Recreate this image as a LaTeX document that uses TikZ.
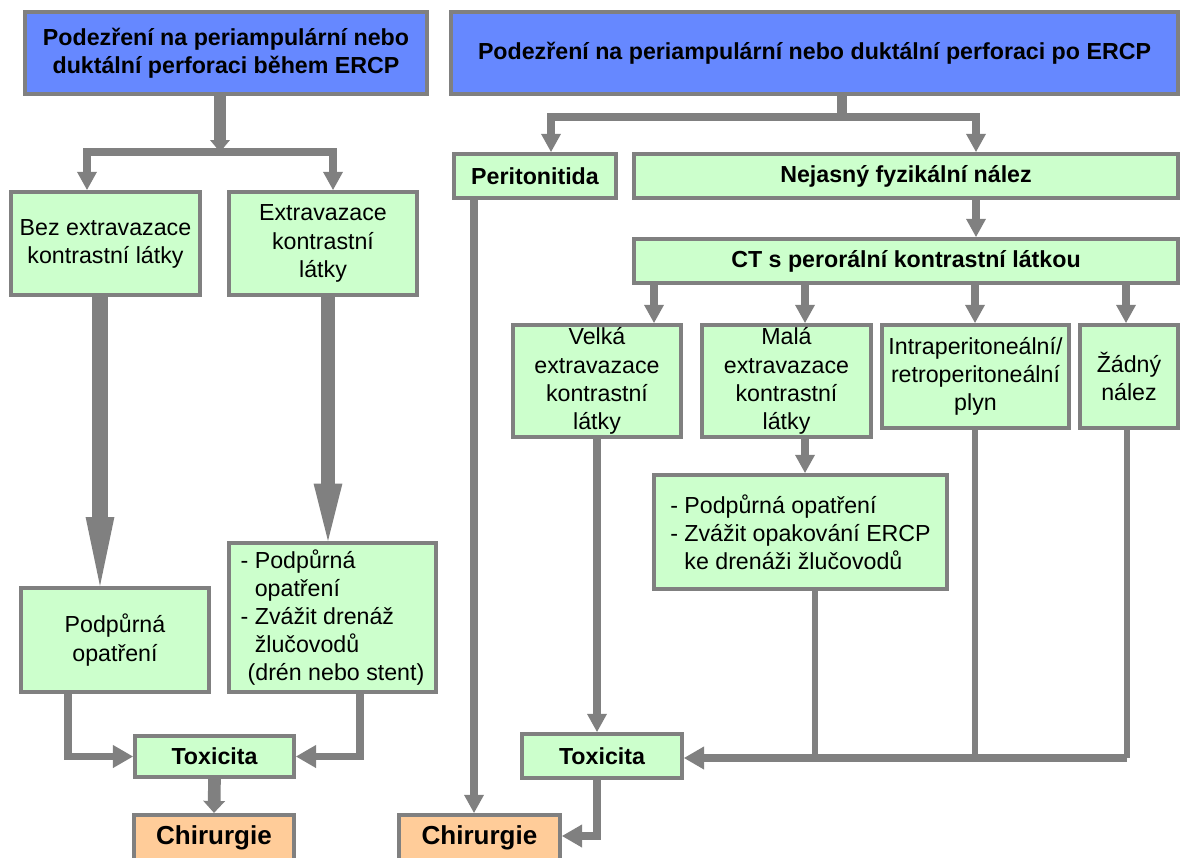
\documentclass[tikz,border=0pt]{standalone}
\usepackage{fontspec}
\setmainfont{Liberation Sans}
\usepackage{xcolor}
\usepackage{tikz}
\usetikzlibrary{arrows.meta,calc}
\definecolor{linegray}{HTML}{808080}
\definecolor{headblue}{HTML}{6688FF}
\definecolor{boxgreen}{HTML}{CCFFCC}
\definecolor{boxorange}{HTML}{FFCC99}
\newlength{\px}
\setlength{\px}{0.025cm}
\tikzset{
  dims/.style 2 args={minimum width=#1\px, minimum height=#2\px},
  box/.style={draw=linegray, line width=3pt, fill=boxgreen, inner sep=0pt,
    align=center, font=\fontsize{16.5}{20}\selectfont},
  boldbox/.style={box, font=\fontsize{16.5}{20}\selectfont\bfseries},
  headbox/.style={box, fill=headblue, font=\fontsize{16.5}{20}\selectfont\bfseries},
  surgbox/.style={boldbox, fill=boxorange, font=\fontsize{18.5}{20}\selectfont\bfseries},
  link/.style={draw=linegray, line width=#1},
  link/.default=5pt,
  tipS/.style={-{Triangle[length=0.45cm,width=0.5cm,line width=0pt]}},
  tipM/.style={-{Triangle[length=0.5cm,width=0.58cm,line width=0pt]}}
}

\begin{document}
\begin{tikzpicture}[x=0.025cm, y=-0.025cm]
  \useasboundingbox (0,0) rectangle (1180,857);

  \node[headbox, dims={402}{82}] (topL) at (226,53)
    {Podezření na periampulární nebo\\duktální perforaci během ERCP};
  \node[headbox, dims={727}{82}] (topR) at (814.5,53)
    {Podezření na periampulární nebo duktální perforaci po ERCP};

  \node[box, dims={189}{103}] (bez) at (105.5,243.5) {Bez extravazace\\kontrastní látky};
  \node[box, dims={188}{103}] (extra) at (323,243.5) {Extravazace\\kontrastní\\látky};
  \node[box, dims={188}{104}] (podL) at (115,640) {Podpůrná\\opatření};
  \node[box, dims={207}{149}, align=left] (podR) at (332.5,617.5)
    {- Podpůrná\\\phantom{- }opatření\\- Zvážit drenáž\\\phantom{- }žlučovodů\\\hspace*{0.3em}(drén nebo stent)};
  \node[boldbox, dims={159}{41}] (toxL) at (214.5,756.5) {Toxicita};
  \node[surgbox, dims={160}{46}] (chirL) at (214,838) {Chirurgie};

  \node[boldbox, dims={162}{44}] (perit) at (535,176) {Peritonitida};
  \node[boldbox, dims={544}{44}] (nejas) at (906,176) {Nejasný fyzikální nález};
  \node[boldbox, dims={544}{44}] (ct) at (906,261) {CT s perorální kontrastní látkou};
  \node[box, dims={168}{112}] (velka) at (597,381) {Velká\\extravazace\\kontrastní\\látky};
  \node[box, dims={169}{112}] (mala) at (786.5,381) {Malá\\extravazace\\kontrastní\\látky};
  \node[box, dims={187}{103}] (intra) at (975.5,376.5) {Intraperitoneální/\\retroperitoneální\\plyn};
  \node[box, dims={98}{103}] (zadny) at (1129,376.5) {Žádný\\nález};
  \node[box, dims={293}{114}, align=left] (podM) at (800.5,532)
    {- Podpůrná opatření\\- Zvážit opakování ERCP\\\phantom{- }ke drenáži žlučovodů};
  \node[boldbox, dims={160}{44}] (toxR) at (602,756) {Toxicita};
  \node[surgbox, dims={161}{46}] (chirR) at (479.5,838) {Chirurgie};

  \coordinate (jL) at (220,152);
  \coordinate (jR) at (842,117);
  \coordinate (g1) at (815,758);
  \coordinate (g2) at (975,758);
  \coordinate (g3) at (1127,758);

  \draw[link=9pt, -{Triangle[length=0.3cm,width=0.5cm,line width=0pt]}] (topL.south -| jL) -- (jL);
  \draw[link=5.7pt, tipS] (jL) -| ($(bez.north)+(-18.5,0)$);
  \draw[link=5.7pt, tipS] (jL) -| ($(extra.north)+(10,0)$);
  \draw[link=11pt, -{Triangle[length=1.72cm,width=0.72cm,line width=0pt]}] ($(bez.south)+(-5.5,0)$) -- ($(podL.north)+(-15,0)$);
  \draw[link=10pt, -{Triangle[length=1.43cm,width=0.72cm,line width=0pt]}] ($(extra.south)+(5,0)$) -- ($(podR.north)+(-4.5,0)$);
  \draw[link, tipM] ($(podL.south)+(-47,0)$) |- (toxL.west);
  \draw[link, tipM] ($(podR.south)+(27.5,0)$) |- (toxL.east);
  \draw[link=9pt, -{Triangle[length=0.3cm,width=0.55cm,line width=0pt]}] (toxL.south) -- (chirL.north);

  \draw[link=7pt] (topR.south -| jR) -- (jR);
  \draw[link=6.3pt, tipS] (jR) -| ($(perit.north)+(16,0)$);
  \draw[link=6.3pt, tipS] (jR) -| ($(nejas.north)+(70,0)$);
  \draw[link=6.3pt, tipS] (nejas.south -| 976,0) -- (ct.north -| 976,0);
  \foreach \n/\ax in {velka/654,mala/805,intra/975,zadny/1126}
    \draw[link=6.3pt, tipS] (ct.south -| \ax,0) -- (\n.north -| \ax,0);
  \draw[link=6.3pt, tipS] (mala.south -| 805,0) -- (podM.north -| 805,0);
  \draw[link=6.3pt, tipS] (perit.south -| 474,0) -- (chirR.north -| 474,0);
  \draw[link=6.3pt, tipS] (velka.south) -- (toxR.north -| velka.south);
  \draw[link, tipM] (toxR.south -| velka.south) |- ($(chirR.east)+(0,-2)$);
  \draw[link=4.5pt] (podM.south -| g1) -- (g1);
  \draw[link=4.5pt] (intra.south -| g2) -- (g2);
  \draw[link=4.5pt] (zadny.south -| g3) -- (g3);
  \draw[link=5.5pt, tipM] (g3) -- (toxR.east |- g3);
\end{tikzpicture}
\end{document}
